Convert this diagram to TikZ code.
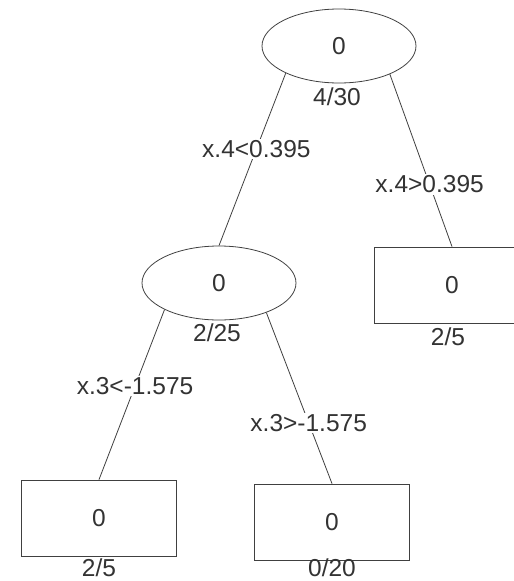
\documentclass[tikz,border=0pt]{standalone}
\usepackage{fontspec}
\setmainfont{Liberation Sans}
\usetikzlibrary{shapes.geometric}
\begin{document}
\begin{tikzpicture}[x=1pt,y=-1pt,
  every node/.style={font=\fontsize{24.5}{28}\selectfont, text=black!80},
  split/.style={ellipse, draw=black!75, line width=0.8pt, minimum width=154pt, minimum height=74pt, inner sep=0pt},
  leaf/.style={rectangle, draw=black!75, line width=0.8pt, minimum width=155pt, minimum height=76pt, inner sep=0pt},
  edge/.style={draw=black!75, line width=0.8pt},
  cond/.style={fill=white, inner sep=1.5pt},
]
\clip (0,0) rectangle (514,581);
\fill[white] (0,0) rectangle (514,581);
% nodes
\node[split] (root) at (339,46) {0};
\node (rootn) at (337,97) {4/30};
\node[split] (mid) at (219,283) {0};
\node (midn) at (217,333) {2/25};
\node[leaf, minimum width=156pt] (rbox) at (452,285) {0};
\node (rboxn) at (448,337) {2/5};
\node[leaf] (lbox) at (99,518) {0};
\node (lboxn) at (99,568) {2/5};
\node[leaf] (cbox) at (332,522) {0};
\node (cboxn) at (332,568) {0/20};
% edges
\draw[edge] (root.207) -- node[cond, pos=0.44] (c1) {x.4<0.395} (mid.north);
\draw[edge] (root.331) -- node[cond, pos=0.64] (c2) {x.4>0.395} (rbox.north);
\draw[edge] (mid.206) -- node[cond, pos=0.45] (c3) {x.3<-1.575} (lbox.north);
\draw[edge] (mid.328) -- node[cond, pos=0.645] (c4) {x.3>-1.575} (cbox.north);
\end{tikzpicture}
\end{document}
